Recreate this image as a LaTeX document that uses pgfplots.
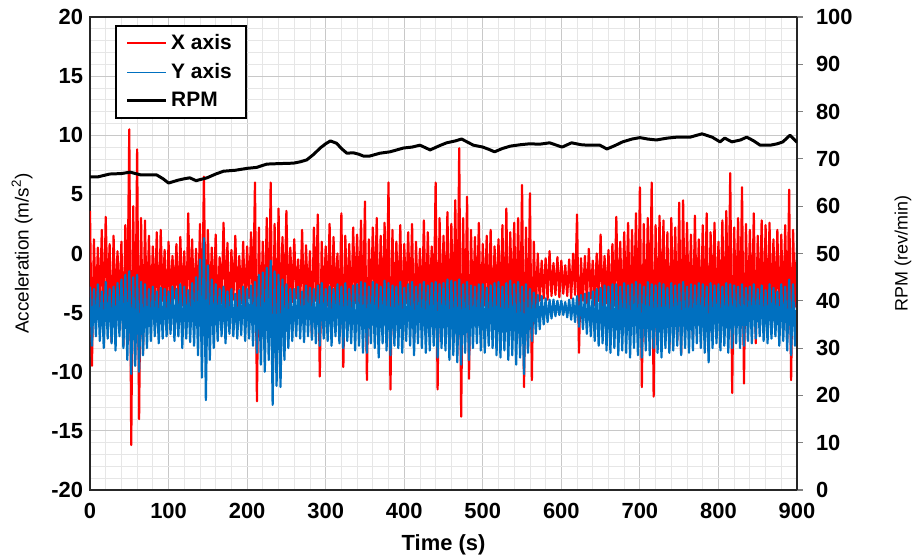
\documentclass[border=0pt]{standalone}
\usepackage{fontspec}
\setmainfont{Liberation Sans}
\usepackage{pgfplots}
\usepackage{pgfplotstable}
\pgfplotsset{compat=1.18}

\definecolor{xred}{RGB}{255,0,0}
\definecolor{yblue}{RGB}{0,112,192}
\definecolor{gridmaj}{RGB}{200,200,200}
\definecolor{gridmin}{RGB}{230,230,230}

% X axis acceleration, one sample every 2.5 s (0 ... 900 s)
\pgfplotstableread[row sep=\\, header=false]{
3.6\\-9.5\\1.2\\-5.0\\0.5\\-4.8\\2.0\\-6.5\\
3.1\\-4.2\\0.8\\-7.5\\1.5\\-5.0\\0.2\\-4.6\\
1.0\\-7.8\\2.4\\-5.5\\10.5\\-16.2\\4.0\\-9.0\\
8.8\\-14.0\\3.0\\-8.5\\2.8\\-6.0\\1.5\\-5.2\\
0.6\\-4.5\\1.8\\-6.8\\2.0\\-4.0\\0.3\\-5.5\\
1.0\\-4.3\\-0.2\\-3.8\\0.8\\-5.0\\1.4\\-4.4\\
0.2\\-6.0\\3.4\\-4.5\\1.2\\-4.8\\0.4\\-5.2\\
2.5\\-7.0\\6.5\\-8.0\\2.0\\-5.0\\0.5\\-4.4\\
1.6\\-5.8\\-0.3\\-4.2\\2.6\\-4.6\\0.9\\-6.2\\
0.3\\-3.9\\1.5\\-4.6\\-0.2\\-4.2\\1.0\\-5.0\\
0.6\\-3.8\\1.8\\-4.7\\6.0\\-12.5\\2.2\\-6.0\\
1.0\\-5.5\\3.0\\-7.0\\6.0\\-11.0\\2.5\\-8.0\\
3.8\\-6.5\\1.4\\-5.0\\3.6\\-5.2\\0.5\\-4.1\\
1.2\\-3.8\\-0.5\\-4.5\\2.0\\-5.2\\0.7\\-4.3\\
0.2\\-7.0\\2.2\\-4.0\\3.3\\-10.4\\1.0\\-5.0\\
0.6\\-4.4\\2.5\\-6.0\\1.4\\-4.2\\0.0\\-5.5\\
3.4\\-9.6\\1.5\\-4.6\\0.8\\-5.8\\2.2\\-4.2\\
1.6\\-4.8\\2.8\\-6.2\\4.4\\-10.7\\1.2\\-5.0\\
2.2\\-4.5\\3.0\\-7.0\\1.5\\-5.2\\2.6\\-6.0\\
6.0\\-11.5\\2.0\\-5.5\\1.0\\-4.8\\2.4\\-6.4\\
0.8\\-4.2\\1.8\\-5.0\\2.5\\-7.5\\1.0\\-4.6\\
0.4\\-5.5\\2.8\\-6.0\\1.8\\-4.4\\0.6\\-5.2\\
6.0\\-11.5\\3.0\\-6.0\\1.5\\-5.0\\3.5\\-7.2\\
2.5\\-6.0\\4.5\\-8.5\\8.9\\-13.8\\3.0\\-7.0\\
4.8\\-10.6\\2.0\\-5.5\\1.4\\-4.8\\2.6\\-6.0\\
0.8\\-4.4\\1.5\\-5.4\\2.0\\-6.2\\0.6\\-4.5\\
1.2\\-5.0\\2.4\\-6.8\\3.8\\-7.5\\1.8\\-5.2\\
2.6\\-6.0\\3.0\\-7.4\\5.8\\-11.3\\2.2\\-8.0\\
5.1\\-10.7\\1.0\\-5.0\\0.0\\-4.0\\-0.6\\-3.8\\
-0.4\\-3.9\\0.2\\-3.6\\-0.8\\-3.5\\-0.3\\-3.7\\
-0.6\\-3.4\\-1.0\\-3.6\\-0.5\\-3.8\\0.0\\-3.5\\
3.3\\-8.4\\-0.4\\-4.0\\-0.2\\-4.2\\0.4\\-3.8\\
-0.6\\-4.4\\0.0\\-4.0\\1.6\\-4.8\\-0.2\\-4.2\\
0.3\\-5.0\\0.8\\-4.4\\3.1\\-5.5\\1.0\\-6.0\\
1.8\\-4.8\\2.6\\-6.4\\2.0\\-5.2\\3.4\\-7.0\\
5.6\\-11.3\\2.5\\-7.5\\3.0\\-6.0\\6.0\\-12.1\\
2.4\\-7.0\\3.2\\-5.6\\2.8\\-6.5\\1.8\\-8.0\\
3.0\\-6.0\\2.2\\-7.4\\4.3\\-8.5\\4.5\\-6.8\\
2.6\\-5.8\\1.6\\-7.2\\3.2\\-5.2\\1.2\\-6.5\\
2.4\\-6.0\\3.4\\-8.4\\1.8\\-5.0\\2.6\\-6.2\\
1.0\\-5.5\\2.8\\-7.0\\3.6\\-6.8\\6.8\\-11.8\\
2.2\\-5.4\\3.0\\-6.6\\5.6\\-11.0\\2.5\\-6.0\\
2.0\\-5.8\\3.4\\-7.6\\1.5\\-5.0\\2.8\\-6.4\\
2.4\\-6.2\\2.6\\-5.4\\1.2\\-4.8\\2.0\\-6.0\\
1.6\\-5.6\\2.4\\-7.2\\5.4\\-10.7\\2.0\\-4.5\\
0.5\\
}\xacc

% Y axis acceleration, same sampling
\pgfplotstableread[row sep=\\, header=false]{
-2.8\\-7.8\\-3.0\\-7.0\\-2.6\\-7.4\\-3.2\\-8.0\\
-2.4\\-7.2\\-3.0\\-7.6\\-2.8\\-8.2\\-2.5\\-7.0\\
-2.2\\-8.0\\-1.8\\-9.0\\-1.5\\-10.2\\-2.0\\-9.5\\
-1.8\\-10.0\\-2.4\\-8.6\\-2.6\\-8.0\\-3.0\\-7.4\\
-2.8\\-7.0\\-3.2\\-7.6\\-2.9\\-7.2\\-3.0\\-7.0\\
-3.2\\-6.8\\-2.8\\-7.4\\-3.0\\-7.0\\-2.6\\-8.0\\
-2.8\\-7.2\\-3.1\\-7.5\\-2.5\\-7.8\\-2.0\\-8.6\\
-0.5\\-10.5\\1.3\\-12.4\\-1.0\\-9.0\\-2.2\\-8.0\\
-2.6\\-7.4\\-3.0\\-7.0\\-2.8\\-7.6\\-3.2\\-6.8\\
-3.0\\-7.0\\-3.4\\-7.2\\-3.1\\-6.9\\-2.8\\-7.4\\
-3.0\\-7.2\\-2.7\\-7.8\\-2.4\\-8.4\\-1.8\\-9.4\\
-1.6\\-10.0\\-1.2\\-9.0\\-0.6\\-12.8\\-1.5\\-11.2\\
-1.8\\-11.3\\-2.2\\-9.0\\-2.6\\-8.0\\-3.0\\-7.4\\
-3.0\\-7.0\\-2.8\\-7.2\\-3.2\\-7.5\\-2.7\\-7.0\\
-2.9\\-7.3\\-3.0\\-7.6\\-2.7\\-7.8\\-2.5\\-7.2\\
-3.0\\-7.4\\-2.8\\-7.8\\-3.0\\-7.0\\-2.6\\-7.6\\
-2.8\\-8.0\\-2.5\\-7.4\\-3.0\\-7.6\\-2.7\\-8.2\\
-2.6\\-7.8\\-2.4\\-8.4\\-2.5\\-8.4\\-2.8\\-7.6\\
-2.4\\-8.0\\-2.6\\-8.8\\-2.8\\-7.6\\-2.3\\-8.2\\
-2.5\\-8.6\\-2.7\\-7.8\\-2.8\\-8.0\\-2.4\\-8.4\\
-2.9\\-7.4\\-2.6\\-7.8\\-2.4\\-8.6\\-2.8\\-7.6\\
-2.6\\-8.0\\-2.4\\-8.4\\-2.7\\-8.2\\-2.5\\-7.8\\
-2.4\\-8.8\\-2.6\\-8.0\\-2.5\\-8.2\\-2.2\\-9.0\\
-2.3\\-8.6\\-2.4\\-9.2\\-2.2\\-9.4\\-2.6\\-8.4\\
-2.4\\-9.0\\-2.7\\-8.0\\-2.8\\-7.6\\-2.6\\-8.2\\
-2.6\\-8.4\\-2.9\\-7.8\\-2.7\\-8.0\\-2.5\\-8.6\\
-2.4\\-8.8\\-2.8\\-8.2\\-2.5\\-9.0\\-2.3\\-8.6\\
-2.6\\-9.4\\-2.4\\-8.8\\-2.8\\-10.2\\-2.6\\-8.4\\
-3.0\\-7.4\\-3.3\\-6.8\\-3.5\\-6.4\\-3.6\\-6.0\\
-3.8\\-5.8\\-3.9\\-5.5\\-3.9\\-5.3\\-4.0\\-5.2\\
-4.0\\-5.2\\-4.1\\-5.4\\-3.9\\-5.6\\-3.8\\-5.8\\
-3.6\\-6.2\\-3.5\\-6.4\\-3.4\\-6.8\\-3.3\\-7.0\\
-3.2\\-7.4\\-3.0\\-7.8\\-2.9\\-7.6\\-2.7\\-8.2\\
-2.8\\-8.4\\-2.6\\-8.0\\-2.6\\-8.6\\-2.8\\-8.2\\
-2.5\\-8.4\\-2.7\\-8.8\\-2.6\\-8.0\\-2.4\\-8.6\\
-2.6\\-8.8\\-2.8\\-8.2\\-2.4\\-8.6\\-2.6\\-8.0\\
-2.7\\-8.4\\-2.5\\-8.8\\-2.6\\-8.0\\-2.9\\-8.4\\
-2.5\\-8.2\\-2.7\\-7.8\\-2.6\\-8.6\\-2.4\\-8.0\\
-2.8\\-8.4\\-2.6\\-8.2\\-2.7\\-7.6\\-2.5\\-8.0\\
-2.6\\-8.4\\-2.8\\-9.2\\-2.5\\-8.0\\-2.7\\-7.6\\
-2.6\\-8.2\\-2.8\\-7.8\\-2.5\\-8.4\\-2.6\\-8.0\\
-2.7\\-7.6\\-2.8\\-8.0\\-2.6\\-7.8\\-2.9\\-7.4\\
-2.8\\-7.6\\-2.6\\-7.2\\-3.0\\-7.0\\-2.7\\-7.4\\
-3.1\\-7.6\\-2.6\\-7.2\\-2.9\\-7.0\\-3.2\\-7.8\\
-2.6\\-7.4\\-2.8\\-8.2\\-2.2\\-8.6\\-2.6\\-7.8\\
-4.0\\
}\yacc

% shaft speed
\pgfplotstableread{
t rpm
0 66.2
10 66.2
25 66.8
40 66.9
51 67.2
65 66.6
85 66.6
93 65.8
100 64.9
112 65.5
120 65.8
127 66.0
135 65.4
149 66.0
160 66.8
170 67.4
185 67.6
200 68.0
212 68.2
225 68.9
240 69.0
259 69.1
268 69.4
276 69.8
285 71.0
293 72.3
300 73.2
306 73.8
314 73.3
320 72.2
327 71.2
335 71.3
342 71.0
348 70.6
356 70.6
369 71.2
382 71.5
399 72.3
410 72.5
420 72.9
433 71.9
445 72.8
454 73.4
465 73.8
473 74.2
480 73.6
488 72.9
500 72.5
508 72.0
515 71.5
525 72.2
535 72.7
548 73.0
560 73.2
572 73.1
585 73.4
601 72.5
613 73.4
625 73.0
633 72.9
649 72.9
658 72.1
668 72.8
678 73.6
690 74.2
700 74.5
710 74.2
721 74.0
735 74.4
747 74.6
764 74.6
779 75.3
792 74.6
802 73.6
808 74.4
817 73.6
828 74.0
836 74.6
845 73.8
853 72.9
866 72.9
875 73.2
882 73.6
891 75.0
897 74.0
900 73.5
}\rpmdata

\pgfplotsset{
  base/.style={
    scale only axis, width=353.5bp, height=236.5bp,
    xmin=0, xmax=900,
    axis line style={black!85, line width=1.1pt},
    tick label style={font=\fontsize{11}{12}\selectfont\bfseries},
    /pgf/number format/assume math mode=true,
  },
}

\begin{document}
\begin{tikzpicture}
\begin{axis}[base, name=main,
  ymin=-20, ymax=20,
  xtick={0,100,...,900}, ytick={-20,-15,...,20},
  minor x tick num=4, minor y tick num=4,
  grid=both,
  major grid style={gridmaj, line width=0.5pt},
  minor grid style={gridmin, line width=0.4pt},
  xtick pos=bottom, ytick pos=left,
  major tick length=0pt, minor tick length=0pt,
  xticklabel style={yshift=-3pt},
  xlabel={\bfseries Time (s)},
  ylabel={Acceleration (m/s\textsuperscript{2})},
  every axis x label/.style={at={(axis description cs:0.5,-0.116)}, anchor=center, font=\fontsize{11}{12}\selectfont},
  every axis y label/.style={at={(axis description cs:-0.096,0.5)}, anchor=center, rotate=90, font=\fontsize{9.5}{11}\selectfont},
]
\addplot[xred, line width=1.1pt, line join=round] table[x expr=\coordindex*2.5, y index=0] {\xacc};
\addplot[yblue, line width=1.1pt, line join=round] table[x expr=\coordindex*2.5, y index=0] {\yacc};
\end{axis}

\begin{axis}[base,
  ymin=0, ymax=100, ytick={0,10,...,100},
  axis x line=none, axis y line*=right,
  tick align=outside, major tick length=3pt,
  tick style={gray, line width=0.6pt},
  yticklabel style={xshift=3pt},
  ylabel={RPM (rev/min)},
  every axis y label/.style={at={(axis description cs:1.15,0.5)}, anchor=center, rotate=90, font=\fontsize{9}{11}\selectfont},
  legend style={at={(rel axis cs:0.035,0.983)}, anchor=north west,
    draw=black, line width=1pt, fill=white,
    font=\fontsize{10.5}{12}\selectfont\bfseries,
    inner xsep=5pt, inner ysep=2pt, row sep=1.5pt,
    cells={anchor=west}},
  legend image code/.code={\draw[#1] (0cm,0cm) -- (0.68cm,0cm);},
]
\addlegendimage{xred, line width=0.6pt}
\addlegendentry{X axis}
\addlegendimage{yblue, line width=0.6pt}
\addlegendentry{Y axis}
\addplot[black, line width=1.5pt, line join=round] table[x=t, y=rpm] {\rpmdata};
\addlegendentry{RPM}
\end{axis}

\pgfresetboundingbox
\path ([shift={(-45bp,-34bp)}]main.south west) rectangle ([shift={(61bp,8.5bp)}]main.north east);
\end{tikzpicture}
\end{document}
